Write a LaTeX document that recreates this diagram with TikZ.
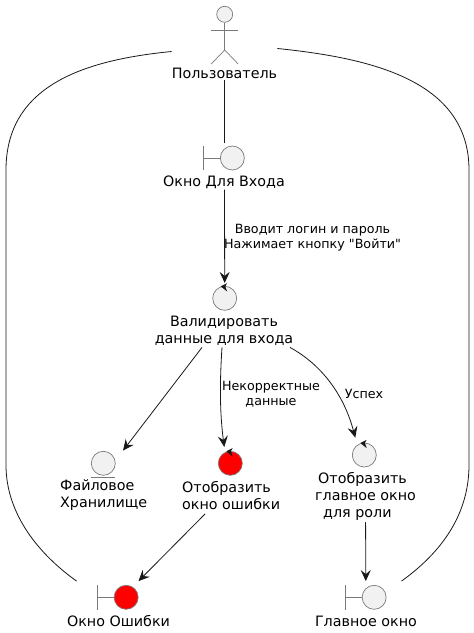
\documentclass[tikz,border=0pt]{standalone}
\usepackage{fontspec}
\setmainfont{DejaVu Sans}[Ligatures=ResetAll]
\usetikzlibrary{arrows.meta}
\definecolor{iconline}{HTML}{7A7A7A}
\definecolor{iconfill}{HTML}{F1F1F1}
\definecolor{wire}{HTML}{181818}
\newcommand{\plainquote}{\XeTeXglyph\XeTeXcharglyph"22\relax}
\tikzset{
  x=1pt,y=-1pt,
  icon/.style={draw=iconline,line width=.7pt,fill=iconfill},
  iconstroke/.style={draw=iconline,line width=.7pt},
  roundicon/.style={icon,circle,minimum size=24pt,inner sep=0pt},
  erroricon/.style={roundicon,fill=red},
  composite/.style={minimum width=41pt,minimum height=24pt,inner sep=0pt},
  label/.style={inner sep=0pt,font=\fontsize{14.3}{17}\selectfont,text=black},
  edgelabel/.style={inner sep=0pt,font=\fontsize{12.7}{15}\selectfont,text=black,align=center},
  wireline/.style={draw=wire,line width=.8pt},
  wirearrow/.style={wireline,-{Stealth[length=11pt,width=10pt,inset=4pt]}},
}
\newcommand{\ctrlhead}[1]{\fill[wire] ([xshift=-4pt,yshift=12pt]#1.center) -- ([xshift=2.4pt,yshift=15.2pt]#1.center) -- ([xshift=.6pt,yshift=12pt]#1.center) -- ([xshift=2.4pt,yshift=6.8pt]#1.center) -- cycle;}
% name, centre x, centre y, circle style
\newcommand{\boundaryicon}[4]{%
  \node[composite] (#1) at (#2,#3) {};
  \node[#4,anchor=east] (#1c) at (#1.east) {};
  \draw[iconstroke] (#1.north west) -- (#1.south west);
  \draw[iconstroke] (#1.west) -- (#1c.west);
}
\begin{document}
\begin{tikzpicture}
\useasboundingbox (0,0) rectangle (474,633);

% actor
\node[roundicon,minimum size=16pt] (head) at (224.7,14.3) {};
\coordinate (hip) at (224.7,50);
\coordinate (armL) at (211.2,30);
\coordinate (armR) at (238.2,30);
\coordinate (legL) at (211.2,64);
\coordinate (legR) at (238.2,64);
\draw[iconstroke] (head.south) -- (hip);
\draw[iconstroke] (armL) -- (armR);
\draw[iconstroke] (legL) -- (hip) -- (legR);
\node[label] (user) at (224.5,73) {Пользователь};

% login window
\boundaryicon{login}{224}{158}{roundicon}
\node[label] (loginL) at (224,182) {Окно Для Входа};

% validate
\node[roundicon] (valid) at (224.7,298.3) {};
\ctrlhead{valid}
\node[label,align=center] (validL) at (224,330.5) {Валидировать\\данные для входа};

% storage
\node[roundicon] (store) at (103.3,463.3) {};
\draw[iconstroke] ([xshift=-12pt,yshift=-1.7pt]store.south) -- ([xshift=12pt,yshift=-1.7pt]store.south);
\node[label,align=left,anchor=west] (storeL) at (60,495.5) {Файловое\\Хранилище};

% show error
\node[erroricon] (showerr) at (230.3,463.3) {};
\ctrlhead{showerr}
\node[label,align=left,anchor=west] (showerrL) at (182,495.5) {Отобразить\\окно ошибки};

% show main
\node[roundicon] (showmain) at (364.3,455) {};
\ctrlhead{showmain}
\node[label,align=left,anchor=west] (showmainL) at (315,496) {\hspace{3pt}Отобразить\\главное окно\\\hspace{8pt}для роли};

% bottom windows
\boundaryicon{errwin}{117.8}{597.3}{erroricon}
\node[label] (errwinL) at (118.5,621) {Окно Ошибки};
\boundaryicon{mainwin}{365.8}{597.3}{roundicon}
\node[label] (mainwinL) at (366,621) {Главное окно};

% connectors
\draw[wireline] ([yshift=-1pt]user.south) -- ([xshift=.5pt,yshift=3pt]login.north);
\draw[wirearrow] ([xshift=.5pt,yshift=-1pt]loginL.south) -- ([yshift=3pt]valid.north);
\draw[wirearrow] ([xshift=-22pt,yshift=-2pt]validL.south) -- ([xshift=11pt,yshift=4pt]store.north east);
\draw[wirearrow] ([xshift=-2pt,yshift=-2pt]validL.south) .. controls (219.5,385) and (220,415) .. ([xshift=-6pt,yshift=4pt]showerr.north);
\draw[wirearrow] ([xshift=66pt,yshift=-2pt]validL.south) .. controls (322,365) and (344,395) .. ([xshift=-9pt,yshift=5pt]showmain.north);
\draw[wirearrow] ([xshift=-26pt,yshift=-4pt]showerrL.south) -- ([yshift=4pt]errwin.north east);
\draw[wirearrow] ([yshift=-2pt]showmainL.south) -- ([yshift=4pt]mainwin.north);
\draw[wireline] ([yshift=16pt]user.north west) .. controls (85,60) and (6,85) .. (6,170) -- (6,465) .. controls (6,515) and (40,555) .. ([xshift=-20.5pt,yshift=4pt]errwin.north west);
\draw[wireline] ([yshift=19pt]user.north east) .. controls (370,58) and (469,80) .. (469,170) -- (469,465) .. controls (469,520) and (435,557) .. ([xshift=15pt,yshift=4pt]mainwin.north east);

% edge labels
\node[edgelabel] (e1) at (312.5,237.5) {Вводит логин и пароль\\Нажимает кнопку \plainquote Войти\plainquote};
\node[edgelabel] (e2) at (271,394.5) {Некорректные\\данные};
\node[edgelabel] (e3) at (364,394) {Успех};
\end{tikzpicture}
\end{document}
